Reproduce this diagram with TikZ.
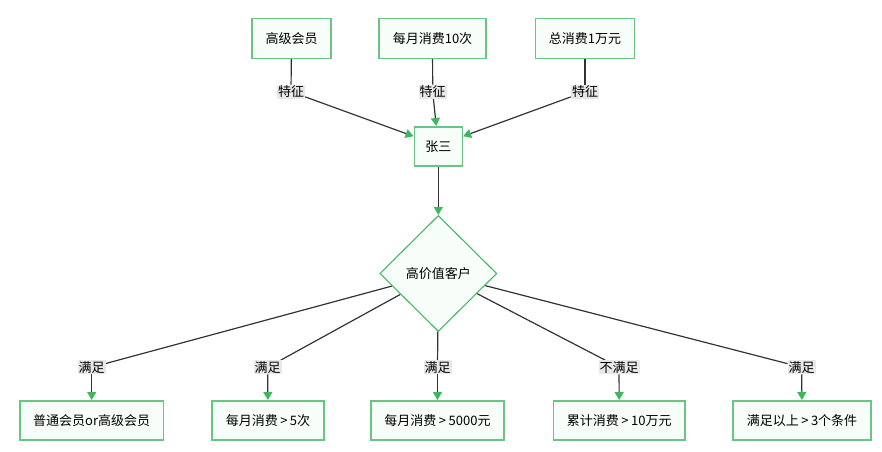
\documentclass[tikz,border=0pt]{standalone}
\usepackage{fontspec}
\setmainfont{Noto Sans CJK SC}
\usetikzlibrary{shapes.geometric,arrows.meta,backgrounds}
\definecolor{boxgreen}{HTML}{6AC584}
\definecolor{diagreen}{HTML}{45B866}
\definecolor{tipgreen}{HTML}{3FB660}
\definecolor{boxfill}{HTML}{F7FDF9}
\definecolor{labelgray}{HTML}{E8E8E8}
\definecolor{linegray}{HTML}{333333}
\newcommand{\gt}{\kern2.5pt>\kern2.5pt}
\begin{document}
\begin{tikzpicture}[x=1pt,y=-1pt,>={Triangle[length=8pt,width=9pt,color=tipgreen]},
	box/.style={draw=boxgreen,line width=1.6pt,fill=boxfill,minimum height=40pt,inner xsep=13.5pt,font=\fontsize{13}{15}\selectfont},
	dia/.style={diamond,draw=diagreen,line width=1.1pt,fill=boxfill,inner sep=0pt,minimum width=117pt,minimum height=116pt,font=\fontsize{13}{15}\selectfont},
	lab/.style={fill=labelgray,inner sep=1pt,font=\fontsize{13}{15}\selectfont},
	edge/.style={draw=linegray,line width=1.2pt}]
	\useasboundingbox (0,0) rectangle (882,451);
	% top row
	\node[box] (gjhy) at (291.5,38.3) {高级会员};
	\node[box] (myxf) at (432.5,38.3) {每月消费10次};
	\node[box] (zxf) at (585,38.3) {总消费1万元};
	\node[box,minimum height=39pt,inner xsep=11pt] (zs) at (438.3,146.3) {张三};
	\node[dia] (gjz) at (438.3,273.5) {高价值客户};
	% bottom row
	\node[box,minimum height=39pt] (b1) at (91.7,420.3) {普通会员or高级会员};
	\node[box,minimum height=39pt] (b2) at (268,420.3) {每月消费\gt5次};
	\node[box,minimum height=39pt] (b3) at (437.5,420.3) {每月消费\gt5000元};
	\node[box,minimum height=39pt] (b4) at (619.3,420.3) {累计消费\gt10万元};
	\node[box,minimum height=39pt] (b5) at (802,420.3) {满足以上\gt3个条件};
	% labels
	\node[lab] (t1) at (291,91.7) {特征};
	\node[lab] (t2) at (432.7,91.7) {特征};
	\node[lab] (t3) at (585,91.7) {特征};
	\node[lab] (m1) at (91.7,367.3) {满足};
	\node[lab] (m2) at (267.7,367.3) {满足};
	\node[lab] (m3) at (437.5,367.3) {满足};
	\node[lab] (m4) at (619,367.3) {不满足};
	\node[lab] (m5) at (801.7,367.3) {满足};
	% edges
	\begin{scope}[on background layer]
	\draw[edge] (gjhy) -- (t1);
	\draw[edge,->] (t1) -- (zs.158);
	\draw[edge] (myxf) -- (t2);
	\draw[edge,->] (t2) -- (zs);
	\draw[edge] (zxf) -- (t3);
	\draw[edge,->] (t3) -- (zs.22);
	\draw[edge,->] (zs) -- (gjz);
	\foreach \i in {1,...,5}{
		\draw[edge] (gjz) -- (m\i);
		\draw[edge,->] (m\i) -- (b\i);
	}
	\end{scope}
\end{tikzpicture}
\end{document}
